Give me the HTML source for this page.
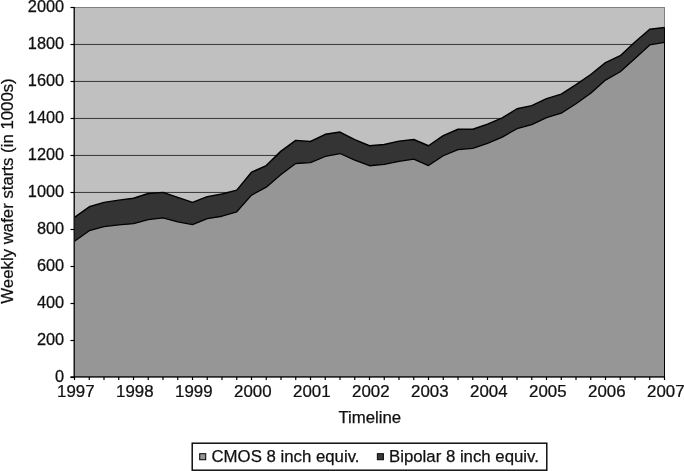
<!DOCTYPE html>
<html><head><meta charset="utf-8"><title>Weekly wafer starts</title>
<style>
html,body{margin:0;padding:0;background:#fff;}
body{width:684px;height:471px;overflow:hidden;}
svg{display:block;}
text{font-family:"Liberation Sans",Arial,Helvetica,sans-serif;fill:#111;stroke:#111;stroke-width:0.25px;}
</style></head><body>
<svg width="684" height="471" viewBox="0 0 684 471">
<rect x="0" y="0" width="684" height="471" fill="#ffffff"/>
<rect x="74.5" y="7.5" width="590" height="369.5" fill="#c0c0c0" stroke="#808080" stroke-width="1"/>
<line x1="74.5" x2="664.5" y1="340.45" y2="340.45" stroke="#262626" stroke-width="0.9"/>
<line x1="74.5" x2="664.5" y1="303.45" y2="303.45" stroke="#262626" stroke-width="0.9"/>
<line x1="74.5" x2="664.5" y1="266.45" y2="266.45" stroke="#262626" stroke-width="0.9"/>
<line x1="74.5" x2="664.5" y1="229.45" y2="229.45" stroke="#262626" stroke-width="0.9"/>
<line x1="74.5" x2="664.5" y1="192.45" y2="192.45" stroke="#262626" stroke-width="0.9"/>
<line x1="74.5" x2="664.5" y1="155.45" y2="155.45" stroke="#262626" stroke-width="0.9"/>
<line x1="74.5" x2="664.5" y1="118.45" y2="118.45" stroke="#262626" stroke-width="0.9"/>
<line x1="74.5" x2="664.5" y1="81.45" y2="81.45" stroke="#262626" stroke-width="0.9"/>
<line x1="74.5" x2="664.5" y1="44.45" y2="44.45" stroke="#262626" stroke-width="0.9"/>
<polygon points="74.50,377.00 74.50,217.34 89.25,206.80 104.00,202.36 118.75,200.14 133.50,198.29 148.25,193.48 163.00,192.37 177.75,197.37 192.50,202.36 207.25,196.62 222.00,194.03 236.75,190.15 251.50,172.21 266.25,165.55 281.00,151.12 295.75,140.38 310.50,141.50 325.25,134.28 340.00,132.06 354.75,139.65 369.50,145.75 384.25,144.46 399.00,141.12 413.75,139.46 428.50,145.75 443.25,135.58 458.00,129.28 472.75,129.28 487.50,124.10 502.25,117.81 517.00,108.75 531.75,105.61 546.50,98.57 561.25,94.13 576.00,84.70 590.75,74.52 605.50,62.69 620.25,55.66 635.00,41.97 649.75,29.20 664.50,27.54 664.50,377.00" fill="#343434"/>
<polyline points="74.50,217.34 89.25,206.80 104.00,202.36 118.75,200.14 133.50,198.29 148.25,193.48 163.00,192.37 177.75,197.37 192.50,202.36 207.25,196.62 222.00,194.03 236.75,190.15 251.50,172.21 266.25,165.55 281.00,151.12 295.75,140.38 310.50,141.50 325.25,134.28 340.00,132.06 354.75,139.65 369.50,145.75 384.25,144.46 399.00,141.12 413.75,139.46 428.50,145.75 443.25,135.58 458.00,129.28 472.75,129.28 487.50,124.10 502.25,117.81 517.00,108.75 531.75,105.61 546.50,98.57 561.25,94.13 576.00,84.70 590.75,74.52 605.50,62.69 620.25,55.66 635.00,41.97 649.75,29.20 664.50,27.54" fill="none" stroke="#000" stroke-width="1.45" stroke-linejoin="round"/>
<polygon points="74.50,377.00 74.50,241.21 89.25,230.66 104.00,226.59 118.75,224.93 133.50,223.63 148.25,219.56 163.00,217.90 177.75,221.78 192.50,224.56 207.25,218.64 222.00,216.24 236.75,211.80 251.50,195.15 266.25,187.19 281.00,174.43 295.75,163.51 310.50,162.59 325.25,156.48 340.00,153.52 354.75,160.18 369.50,165.73 384.25,164.44 399.00,161.29 413.75,159.07 428.50,165.55 443.25,155.74 458.00,149.63 472.75,148.34 487.50,143.34 502.25,137.06 517.00,128.73 531.75,124.66 546.50,117.63 561.25,113.19 576.00,103.75 590.75,93.21 605.50,80.07 620.25,71.75 635.00,58.43 649.75,44.93 664.50,42.33 664.50,377.00" fill="#969696"/>
<polyline points="74.50,241.21 89.25,230.66 104.00,226.59 118.75,224.93 133.50,223.63 148.25,219.56 163.00,217.90 177.75,221.78 192.50,224.56 207.25,218.64 222.00,216.24 236.75,211.80 251.50,195.15 266.25,187.19 281.00,174.43 295.75,163.51 310.50,162.59 325.25,156.48 340.00,153.52 354.75,160.18 369.50,165.73 384.25,164.44 399.00,161.29 413.75,159.07 428.50,165.55 443.25,155.74 458.00,149.63 472.75,148.34 487.50,143.34 502.25,137.06 517.00,128.73 531.75,124.66 546.50,117.63 561.25,113.19 576.00,103.75 590.75,93.21 605.50,80.07 620.25,71.75 635.00,58.43 649.75,44.93 664.50,42.33" fill="none" stroke="#000" stroke-width="1.3" stroke-linejoin="round"/>
<line x1="664.5" x2="664.5" y1="27.5" y2="377" stroke="#000" stroke-width="1"/>
<line x1="74.2" x2="74.2" y1="7" y2="377.5" stroke="#111" stroke-width="1.4"/>
<line x1="70.5" x2="665" y1="376.9" y2="376.9" stroke="#000" stroke-width="1.25"/>
<line x1="70.5" x2="74.5" y1="377.5" y2="377.5" stroke="#000" stroke-width="1.2"/>
<line x1="70.5" x2="74.5" y1="340.5" y2="340.5" stroke="#000" stroke-width="1.2"/>
<line x1="70.5" x2="74.5" y1="303.5" y2="303.5" stroke="#000" stroke-width="1.2"/>
<line x1="70.5" x2="74.5" y1="266.5" y2="266.5" stroke="#000" stroke-width="1.2"/>
<line x1="70.5" x2="74.5" y1="229.5" y2="229.5" stroke="#000" stroke-width="1.2"/>
<line x1="70.5" x2="74.5" y1="192.5" y2="192.5" stroke="#000" stroke-width="1.2"/>
<line x1="70.5" x2="74.5" y1="155.5" y2="155.5" stroke="#000" stroke-width="1.2"/>
<line x1="70.5" x2="74.5" y1="118.5" y2="118.5" stroke="#000" stroke-width="1.2"/>
<line x1="70.5" x2="74.5" y1="81.5" y2="81.5" stroke="#000" stroke-width="1.2"/>
<line x1="70.5" x2="74.5" y1="44.5" y2="44.5" stroke="#000" stroke-width="1.2"/>
<line x1="70.5" x2="74.5" y1="7.5" y2="7.5" stroke="#000" stroke-width="1.2"/>
<line x1="74.50" x2="74.50" y1="377" y2="380" stroke="#000" stroke-width="1.2"/>
<line x1="89.25" x2="89.25" y1="377" y2="380" stroke="#000" stroke-width="1.2"/>
<line x1="104.00" x2="104.00" y1="377" y2="380" stroke="#000" stroke-width="1.2"/>
<line x1="118.75" x2="118.75" y1="377" y2="380" stroke="#000" stroke-width="1.2"/>
<line x1="133.50" x2="133.50" y1="377" y2="380" stroke="#000" stroke-width="1.2"/>
<line x1="148.25" x2="148.25" y1="377" y2="380" stroke="#000" stroke-width="1.2"/>
<line x1="163.00" x2="163.00" y1="377" y2="380" stroke="#000" stroke-width="1.2"/>
<line x1="177.75" x2="177.75" y1="377" y2="380" stroke="#000" stroke-width="1.2"/>
<line x1="192.50" x2="192.50" y1="377" y2="380" stroke="#000" stroke-width="1.2"/>
<line x1="207.25" x2="207.25" y1="377" y2="380" stroke="#000" stroke-width="1.2"/>
<line x1="222.00" x2="222.00" y1="377" y2="380" stroke="#000" stroke-width="1.2"/>
<line x1="236.75" x2="236.75" y1="377" y2="380" stroke="#000" stroke-width="1.2"/>
<line x1="251.50" x2="251.50" y1="377" y2="380" stroke="#000" stroke-width="1.2"/>
<line x1="266.25" x2="266.25" y1="377" y2="380" stroke="#000" stroke-width="1.2"/>
<line x1="281.00" x2="281.00" y1="377" y2="380" stroke="#000" stroke-width="1.2"/>
<line x1="295.75" x2="295.75" y1="377" y2="380" stroke="#000" stroke-width="1.2"/>
<line x1="310.50" x2="310.50" y1="377" y2="380" stroke="#000" stroke-width="1.2"/>
<line x1="325.25" x2="325.25" y1="377" y2="380" stroke="#000" stroke-width="1.2"/>
<line x1="340.00" x2="340.00" y1="377" y2="380" stroke="#000" stroke-width="1.2"/>
<line x1="354.75" x2="354.75" y1="377" y2="380" stroke="#000" stroke-width="1.2"/>
<line x1="369.50" x2="369.50" y1="377" y2="380" stroke="#000" stroke-width="1.2"/>
<line x1="384.25" x2="384.25" y1="377" y2="380" stroke="#000" stroke-width="1.2"/>
<line x1="399.00" x2="399.00" y1="377" y2="380" stroke="#000" stroke-width="1.2"/>
<line x1="413.75" x2="413.75" y1="377" y2="380" stroke="#000" stroke-width="1.2"/>
<line x1="428.50" x2="428.50" y1="377" y2="380" stroke="#000" stroke-width="1.2"/>
<line x1="443.25" x2="443.25" y1="377" y2="380" stroke="#000" stroke-width="1.2"/>
<line x1="458.00" x2="458.00" y1="377" y2="380" stroke="#000" stroke-width="1.2"/>
<line x1="472.75" x2="472.75" y1="377" y2="380" stroke="#000" stroke-width="1.2"/>
<line x1="487.50" x2="487.50" y1="377" y2="380" stroke="#000" stroke-width="1.2"/>
<line x1="502.25" x2="502.25" y1="377" y2="380" stroke="#000" stroke-width="1.2"/>
<line x1="517.00" x2="517.00" y1="377" y2="380" stroke="#000" stroke-width="1.2"/>
<line x1="531.75" x2="531.75" y1="377" y2="380" stroke="#000" stroke-width="1.2"/>
<line x1="546.50" x2="546.50" y1="377" y2="380" stroke="#000" stroke-width="1.2"/>
<line x1="561.25" x2="561.25" y1="377" y2="380" stroke="#000" stroke-width="1.2"/>
<line x1="576.00" x2="576.00" y1="377" y2="380" stroke="#000" stroke-width="1.2"/>
<line x1="590.75" x2="590.75" y1="377" y2="380" stroke="#000" stroke-width="1.2"/>
<line x1="605.50" x2="605.50" y1="377" y2="380" stroke="#000" stroke-width="1.2"/>
<line x1="620.25" x2="620.25" y1="377" y2="380" stroke="#000" stroke-width="1.2"/>
<line x1="635.00" x2="635.00" y1="377" y2="380" stroke="#000" stroke-width="1.2"/>
<line x1="649.75" x2="649.75" y1="377" y2="380" stroke="#000" stroke-width="1.2"/>
<line x1="664.50" x2="664.50" y1="377" y2="380" stroke="#000" stroke-width="1.2"/>
<text transform="translate(64.2,381.7) scale(1.04,1)" font-size="15.75" text-anchor="end">0</text>
<text transform="translate(64.2,344.7) scale(1.04,1)" font-size="15.75" text-anchor="end">200</text>
<text transform="translate(64.2,307.7) scale(1.04,1)" font-size="15.75" text-anchor="end">400</text>
<text transform="translate(64.2,270.7) scale(1.04,1)" font-size="15.75" text-anchor="end">600</text>
<text transform="translate(64.2,233.7) scale(1.04,1)" font-size="15.75" text-anchor="end">800</text>
<text transform="translate(64.2,196.7) scale(1.04,1)" font-size="15.75" text-anchor="end">1000</text>
<text transform="translate(64.2,159.7) scale(1.04,1)" font-size="15.75" text-anchor="end">1200</text>
<text transform="translate(64.2,122.7) scale(1.04,1)" font-size="15.75" text-anchor="end">1400</text>
<text transform="translate(64.2,85.7) scale(1.04,1)" font-size="15.75" text-anchor="end">1600</text>
<text transform="translate(64.2,48.7) scale(1.04,1)" font-size="15.75" text-anchor="end">1800</text>
<text transform="translate(64.2,11.7) scale(1.04,1)" font-size="15.75" text-anchor="end">2000</text>
<text transform="translate(75.8,396.9) scale(1.075,1)" font-size="15.7" text-anchor="middle">1997</text>
<text transform="translate(134.8,396.9) scale(1.075,1)" font-size="15.7" text-anchor="middle">1998</text>
<text transform="translate(193.8,396.9) scale(1.075,1)" font-size="15.7" text-anchor="middle">1999</text>
<text transform="translate(252.8,396.9) scale(1.075,1)" font-size="15.7" text-anchor="middle">2000</text>
<text transform="translate(311.8,396.9) scale(1.075,1)" font-size="15.7" text-anchor="middle">2001</text>
<text transform="translate(370.8,396.9) scale(1.075,1)" font-size="15.7" text-anchor="middle">2002</text>
<text transform="translate(429.8,396.9) scale(1.075,1)" font-size="15.7" text-anchor="middle">2003</text>
<text transform="translate(488.8,396.9) scale(1.075,1)" font-size="15.7" text-anchor="middle">2004</text>
<text transform="translate(547.8,396.9) scale(1.075,1)" font-size="15.7" text-anchor="middle">2005</text>
<text transform="translate(606.8,396.9) scale(1.075,1)" font-size="15.7" text-anchor="middle">2006</text>
<text transform="translate(665.8,396.9) scale(1.075,1)" font-size="15.7" text-anchor="middle">2007</text>
<text x="369.8" y="422.6" font-size="16.8" text-anchor="middle">Timeline</text>
<text transform="translate(13,191) rotate(-90)" font-size="16.8" text-anchor="middle">Weekly wafer starts (in 1000s)</text>
<rect x="192.2" y="443.2" width="354.6" height="27" fill="#fff" stroke="#000" stroke-width="1.4"/>
<rect x="199.7" y="453.7" width="6" height="6" fill="#969696" stroke="#111" stroke-width="1.1"/>
<text x="211.5" y="462.3" font-size="16.8">CMOS 8 inch equiv.</text>
<rect x="377.4" y="453.7" width="6" height="6" fill="#3a3a3a" stroke="#111" stroke-width="1.1"/>
<text x="389" y="462.3" font-size="16.8">Bipolar 8 inch equiv.</text>
</svg>
</body></html>
